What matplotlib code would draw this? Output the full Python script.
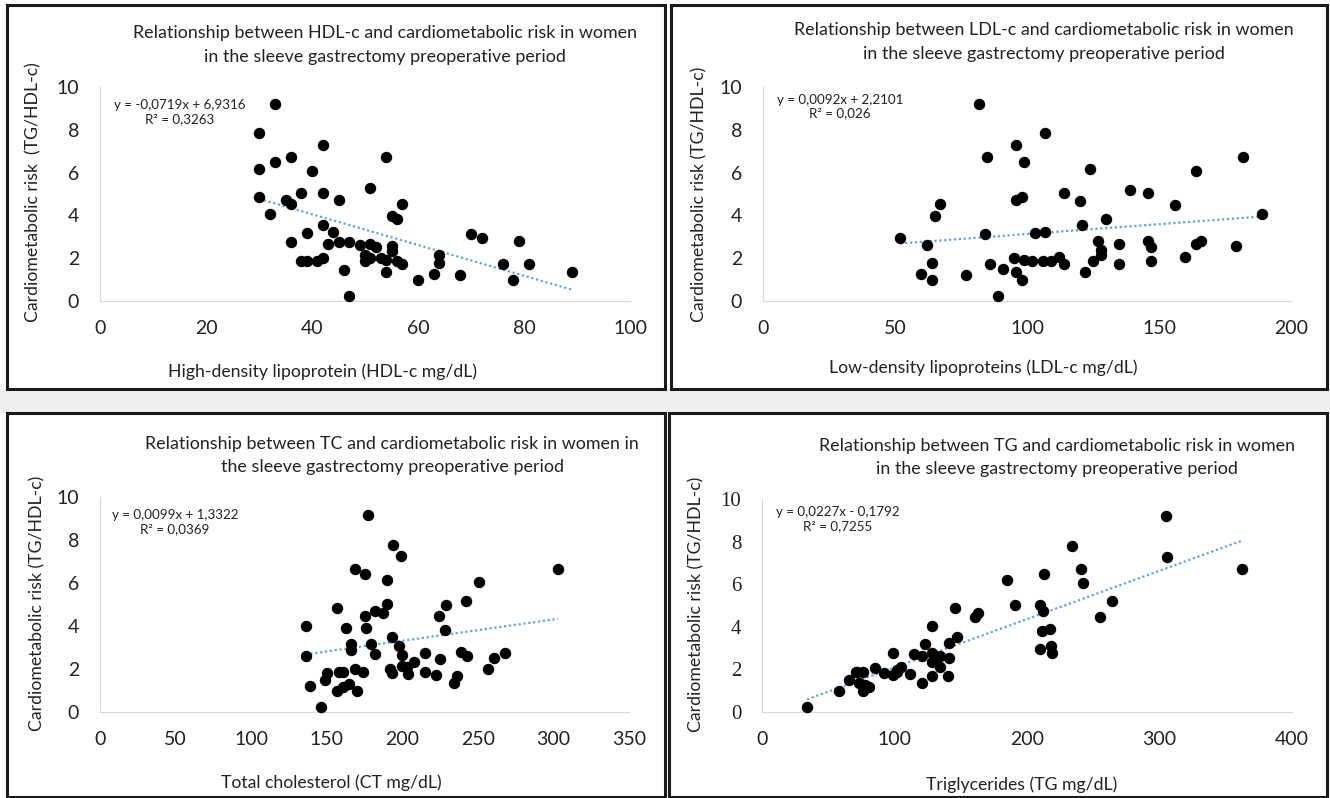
import numpy as np
import matplotlib
matplotlib.use("Agg")
import matplotlib.pyplot as plt
from matplotlib.patches import Rectangle

plt.rcParams['font.family'] = ['Lato', 'DejaVu Sans']

# ---- data ----
hdl_x = [33, 30, 30, 33, 36, 30, 32, 35, 36, 38, 40, 42, 42, 45, 36, 39, 42, 44, 43, 45,
         38, 39, 41, 42, 46, 47, 47, 49, 51, 50, 50, 51, 51, 52, 53, 54, 54, 54, 55, 55,
         55, 56, 57, 56, 57, 60, 63, 64, 64, 68, 70, 72, 76, 78, 79, 81, 89]
hdl_y = [9.2, 7.83, 6.18, 6.49, 6.71, 4.88, 4.06, 4.73, 4.51, 5.04, 6.08, 7.27, 5.04, 4.73,
         2.75, 3.18, 3.53, 3.24, 2.65, 2.75, 1.87, 1.87, 1.87, 2.03, 1.47, 2.75, 0.25, 2.62,
         5.3, 2.15, 1.87, 2.0, 2.65, 2.51, 2.03, 6.71, 1.93, 1.37, 2.59, 2.34, 3.98, 3.82,
         4.52, 1.86, 1.73, 1.0, 1.25, 2.15, 1.76, 1.22, 3.14, 2.96, 1.72, 1.0, 2.81, 1.75, 1.37]

ldl_x = [82, 107, 96, 85, 99, 124, 164, 182, 52, 62, 64, 60, 64, 65, 67, 77, 84, 86, 89,
         91, 96, 98, 95, 96, 98, 99, 102, 103, 107, 106, 109, 112, 114, 114, 120, 121, 122,
         125, 127, 128, 128, 130, 135, 135, 139, 146, 146, 147, 147, 156, 160, 164, 166,
         179, 189]
ldl_y = [9.2, 7.83, 7.27, 6.71, 6.49, 6.18, 6.07, 6.74, 2.95, 2.6, 1.78, 1.25, 1.0, 3.98,
         4.51, 1.2, 3.14, 1.75, 0.25, 1.48, 4.7, 4.88, 2.03, 1.37, 1.0, 1.92, 1.87, 3.18,
         3.21, 1.87, 1.89, 2.07, 1.75, 5.05, 4.68, 3.54, 1.37, 1.86, 2.79, 2.37, 2.17, 3.84,
         2.68, 1.72, 5.21, 5.04, 2.79, 2.51, 1.89, 4.49, 2.04, 2.65, 2.79, 2.59, 4.06]

tc_x = [177, 194, 199, 169, 175, 190, 303, 251, 157, 190, 229, 242, 182, 187, 175, 224,
        136, 163, 176, 228, 193, 166, 179, 198, 166, 136, 182, 200, 215, 225, 239, 243,
        261, 268, 208, 200, 203, 204, 192, 193, 169, 174, 215, 222, 236, 234, 257, 150,
        158, 161, 149, 139, 157, 161, 165, 170, 146]
tc_y = [9.15, 7.78, 7.26, 6.67, 6.43, 6.16, 6.67, 6.03, 4.85, 5.02, 4.99, 5.16, 4.71, 4.62,
        4.45, 4.45, 4.02, 3.92, 3.91, 3.8, 3.5, 3.18, 3.18, 3.09, 2.9, 2.59, 2.71, 2.64,
        2.76, 2.48, 2.78, 2.62, 2.51, 2.74, 2.34, 2.16, 2.08, 1.75, 2.0, 1.83, 2.02, 1.86,
        1.86, 1.74, 1.69, 1.35, 2.0, 1.8, 1.86, 1.86, 1.47, 1.21, 0.98, 1.16, 1.29, 0.96, 0.23]

tg_x = [305, 306, 234, 241, 242, 362, 213, 185, 191, 210, 212, 264, 255, 146, 161, 163,
        128, 147, 141, 211, 217, 210, 218, 219, 123, 115, 121, 99, 128, 131, 128, 134, 141,
        134, 128, 140, 121, 112, 105, 102, 99, 92, 85, 76, 71, 66, 73, 78, 81, 76, 58, 34,
        72, 102]
tg_y = [9.2, 7.3, 7.8, 6.7, 6.06, 6.7, 6.47, 6.19, 5.04, 5.04, 4.74, 5.2, 4.47, 4.88, 4.46,
        4.66, 4.03, 3.53, 3.23, 3.78, 3.91, 2.94, 3.11, 2.79, 3.17, 2.72, 2.65, 2.76, 2.75,
        2.57, 2.37, 2.61, 2.54, 2.12, 1.71, 1.71, 1.35, 1.77, 2.1, 1.98, 1.74, 1.82, 2.07,
        1.87, 1.87, 1.48, 1.37, 1.26, 1.18, 0.99, 1.0, 0.24, 1.87, 1.87]

# trendline coefficients (slope, intercept) as printed on the chart
hdl_fit = [-0.0719, 6.9316]
ldl_fit = [0.0092, 2.2101]
tc_fit = [0.0099, 1.3322]
tg_fit = [0.0227, -0.1792]

titles = [
    "Relationship between HDL-c and cardiometabolic risk in women\nin the sleeve gastrectomy preoperative period",
    "Relationship between LDL-c and cardiometabolic risk in women\nin the sleeve gastrectomy preoperative period",
    "Relationship between TC and cardiometabolic risk in women in\nthe sleeve gastrectomy preoperative period",
    "Relationship between TG and cardiometabolic risk in women\nin the sleeve gastrectomy preoperative period",
]
equations = [
    "y = -0,0719x + 6,9316\nR² = 0,3263",
    "y = 0,0092x + 2,2101\nR² = 0,026",
    "y = 0,0099x + 1,3322\nR² = 0,0369",
    "y = 0,0227x - 0,1792\nR² = 0,7255",
]
xlabels = [
    "High-density lipoprotein (HDL-c mg/dL)",
    "Low-density lipoproteins (LDL-c mg/dL)",
    "Total cholesterol (CT mg/dL)",
    "Triglycerides (TG mg/dL)",
]
ylabels = [
    "Cardiometabolic risk  (TG/HDL-c)",
    "Cardiometabolic risk (TG/HDL-c)",
    "Cardiometabolic risk (TG/HDL-c)",
    "Cardiometabolic risk (TG/HDL-c)",
]
xticks = [np.arange(0, 101, 20), np.arange(0, 201, 50), np.arange(0, 351, 50), np.arange(0, 401, 100)]
yticks = np.arange(0, 11, 2)

W, H = 1330, 798
fig = plt.figure(figsize=(W / 100, H / 100), dpi=100)
fig.patch.set_facecolor('white')


def fx(px):
    return px / W


def fy(py):
    return 1 - py / H


# gray band between rows and panel frames (kept behind the axes)
fig.patches.append(Rectangle((0, fy(413)), 1, fy(389) - fy(413), transform=fig.transFigure,
                             facecolor='#efefef', edgecolor='none', zorder=-3))
frames = [(7, 5, 665, 389), (671, 5, 1327, 389), (7, 413, 665, 797), (669, 413, 1327, 797)]
for x0, y0, x1, y1 in frames:
    fig.patches.append(Rectangle((fx(x0), fy(y1)), fx(x1) - fx(x0), fy(y0) - fy(y1),
                                 transform=fig.transFigure, facecolor='white',
                                 edgecolor='#1a1a1a', linewidth=2.2, zorder=-2))

# axes boxes in pixels: left, right, top(y=10), bottom(y=0)
boxes = [(100, 630, 87, 301), (763, 1291, 87, 301), (100, 629, 497, 712), (762, 1292, 499, 712)]
xlims = [100, 200, 350, 400]
series = [(hdl_x, hdl_y, hdl_fit), (ldl_x, ldl_y, ldl_fit), (tc_x, tc_y, tc_fit), (tg_x, tg_y, tg_fit)]
title_pos = [(0.538, 1.196), (0.532, 1.21), (0.552, 1.195), (0.557, 1.195)]
eq_pos = [(0.151, 0.883), (0.146, 0.907), (0.142, 0.884), (0.143, 0.906)]
xlab_pos = [(0.42, -0.332), (0.417, -0.313), (0.437, -0.33), (0.49, -0.34)]
ylab_pos = [(-0.126, 0.51), (-0.121, 0.50), (-0.119, 0.507), (-0.123, 0.505)]

for i, (l, r, t, b) in enumerate(boxes):
    ax = fig.add_axes([fx(l), fy(b), fx(r) - fx(l), fy(t) - fy(b)])
    ax.set_facecolor('none')
    x, y, fit = series[i]
    xs = np.array([min(x), max(x)])
    ax.plot(xs, fit[0] * xs + fit[1], linestyle=(0, (1, 1.2)), color='#6AA2D8', lw=1.6, zorder=2)
    ax.scatter(x, y, s=52, color='black', zorder=3, clip_on=False)

    ax.set_xlim(0, xlims[i])
    ax.set_ylim(0, 10)
    ax.set_xticks(xticks[i])
    ax.set_yticks(yticks)
    ax.tick_params(length=0, labelsize=14, colors='#222222')
    ax.tick_params(axis='y', pad=15)
    ax.tick_params(axis='x', pad=14)
    if i == 3:
        for lab in ax.get_yticklabels():
            lab.set_family(['Liberation Serif', 'DejaVu Serif'])
            lab.set_fontsize(15)
    for s in ['top', 'right']:
        ax.spines[s].set_visible(False)
    for s in ['left', 'bottom']:
        ax.spines[s].set_color('#d9d9d9')
        ax.spines[s].set_linewidth(0.8)

    ax.text(*title_pos[i], titles[i], transform=ax.transAxes, ha='center', va='center',
            fontsize=12.9, color='#222222', linespacing=1.55)
    ax.text(*eq_pos[i], equations[i], transform=ax.transAxes, ha='center', va='center',
            fontsize=9.6, color='#222222', linespacing=1.15)
    ax.text(*xlab_pos[i], xlabels[i], transform=ax.transAxes, ha='center', va='center',
            fontsize=12.7, color='#222222')
    ax.text(*ylab_pos[i], ylabels[i], transform=ax.transAxes, ha='center', va='center',
            rotation=90, fontsize=12.7, color='#222222')

fig.savefig('out.png', dpi=100)
